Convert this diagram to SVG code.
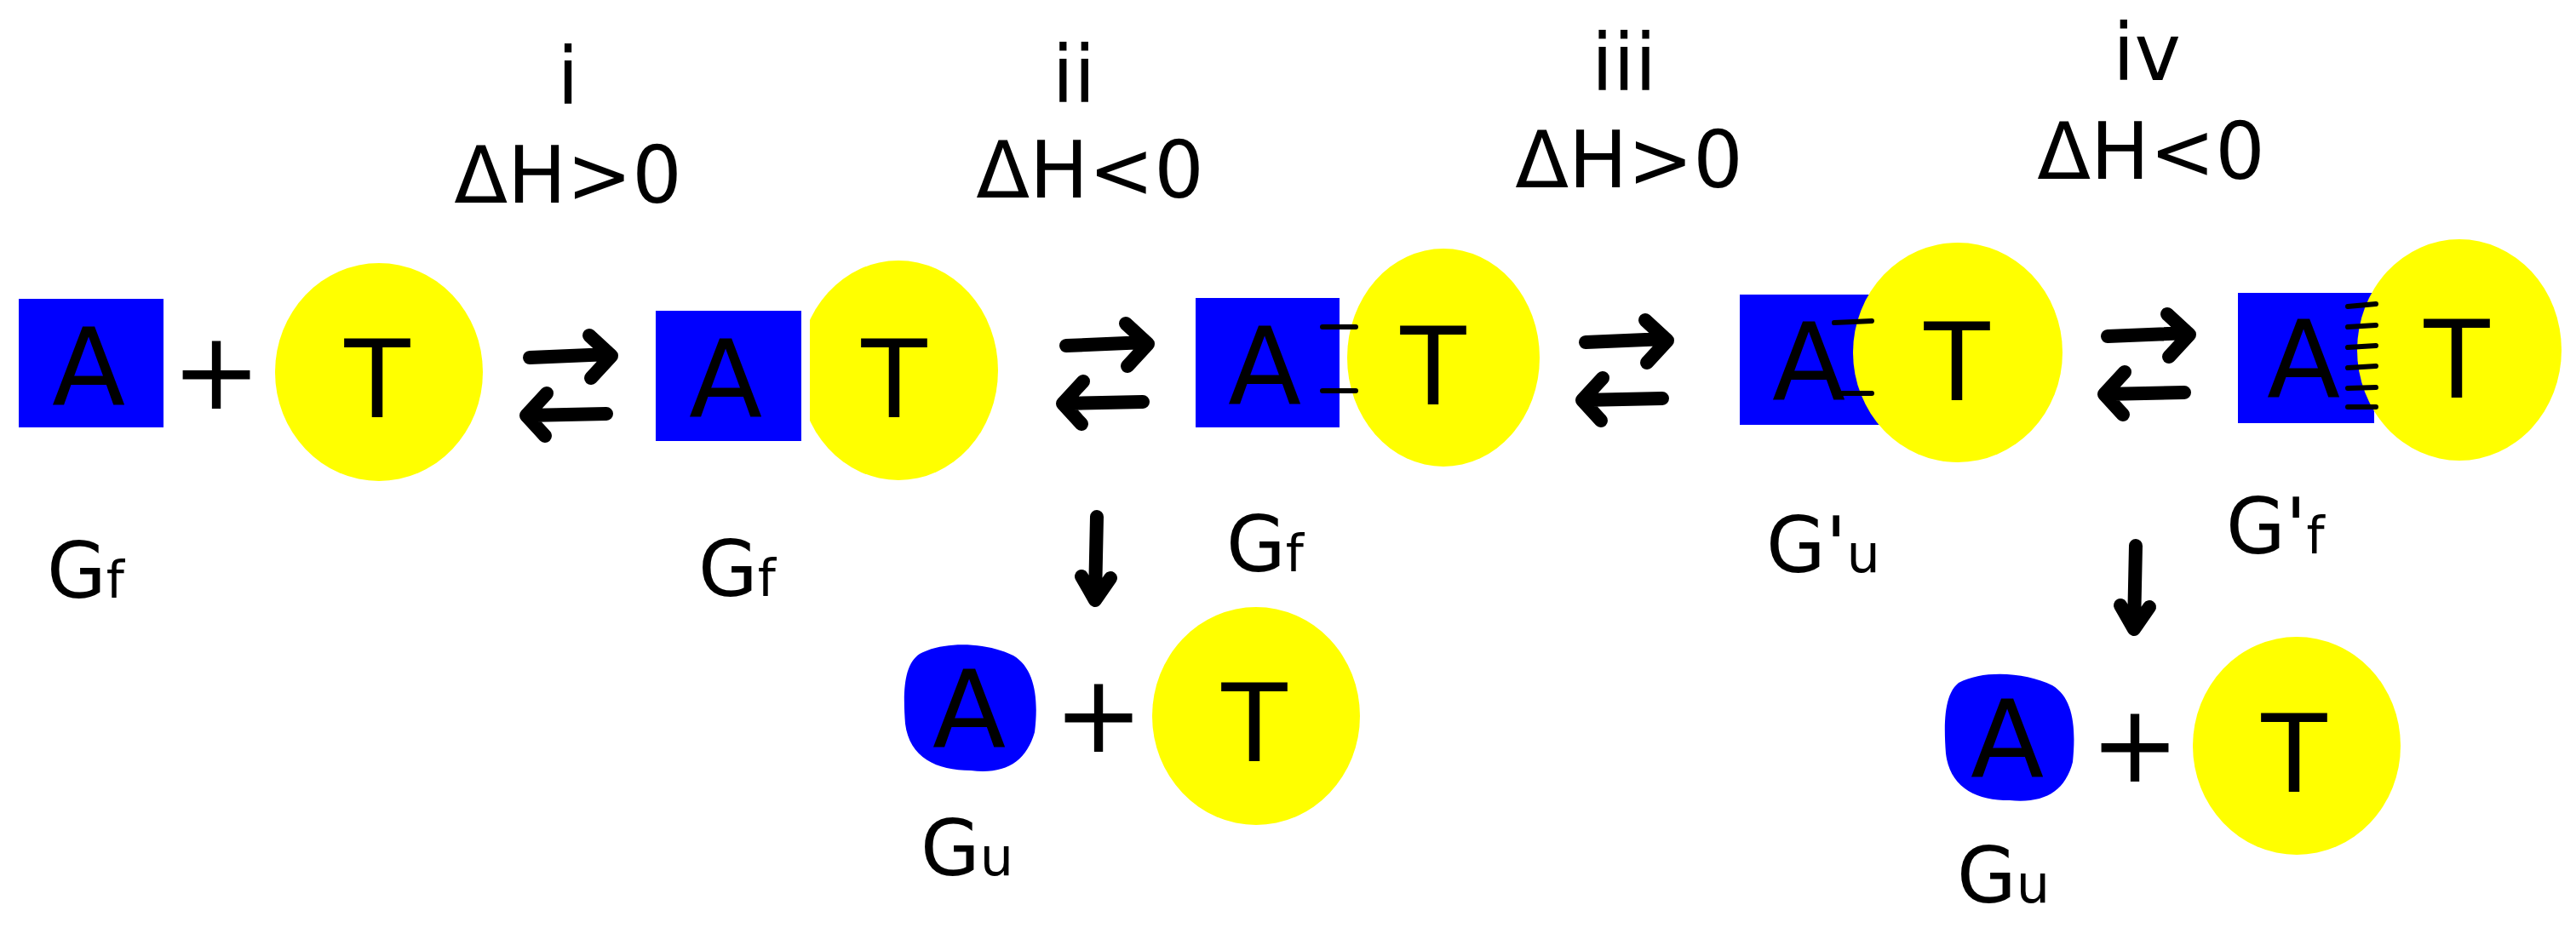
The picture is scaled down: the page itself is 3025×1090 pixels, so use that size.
<svg xmlns="http://www.w3.org/2000/svg" xmlns:xlink="http://www.w3.org/1999/xlink" width="3025" height="1090" viewBox="0 0 3025 1090">
<style>
.box{fill:#0000ff}
.ball{fill:#ffff00}
.big{font-family:"DejaVu Sans",sans-serif;font-size:126px;fill:#000;text-anchor:middle}
.lab{font-family:"DejaVu Sans",sans-serif;font-size:90px;fill:#000}
.hd{font-family:"DejaVu Sans",sans-serif;font-size:92px;fill:#000;text-anchor:middle}
.ln{stroke:#000;stroke-width:16;fill:none;stroke-linecap:round;stroke-linejoin:round}
.dash{stroke:#000;stroke-width:6;stroke-linecap:round}
</style>
<defs>
<g id="eq">
<path class="ln" d="M10,34 L104,30 M80,8 L106,32 L82,58"/>
<path class="ln" d="M100,100 L6,102 M30,76 L6,102 L28,126"/>
</g>
<path id="down" class="ln" d="M0,0 L-2,95 M-18,70 L-2,98 L16,72"/>
</defs>
<rect width="3025" height="1090" fill="#fff"/>
<g id="headers">
<text class="hd" x="667" y="122">i</text><text class="hd" x="667" y="238">ΔH&gt;0</text>
<text class="hd" x="1261" y="120">ii</text><text class="hd" x="1280" y="232">ΔH&lt;0</text>
<text class="hd" x="1907" y="106">iii</text><text class="hd" x="1913" y="220">ΔH&gt;0</text>
<text class="hd" x="2521" y="94">iv</text><text class="hd" x="2526" y="210">ΔH&lt;0</text>
</g>
<g id="n1"><rect class="box" x="22" y="351" width="170" height="151"/><text class="big" x="104" y="476">A</text></g>
<g id="plus1"><text class="big" x="254" y="480">+</text></g>
<g id="n2"><ellipse class="ball" cx="445" cy="437" rx="122" ry="128"/><text class="big" x="443" y="490">T</text></g>
<g id="n3"><ellipse class="ball" cx="1055" cy="435" rx="117" ry="129"/><rect class="box" x="770" y="365" width="171" height="153"/><rect x="941" y="300" width="10" height="270" fill="#fff"/><text class="big" x="852" y="490">A</text><text class="big" x="1050" y="490">T</text></g>
<g id="n4"><rect class="box" x="1404" y="350" width="169" height="152"/><ellipse class="ball" cx="1695" cy="420" rx="113" ry="128"/><rect x="1573" y="340" width="8" height="170" fill="#fff"/><text class="big" x="1485" y="475">A</text><text class="big" x="1683" y="475">T</text>
<path class="dash" d="M1553,384 L1592,384 M1553,459 L1592,459"/></g>
<g id="n5"><rect class="box" x="2043" y="346" width="165" height="153"/><ellipse class="ball" cx="2299" cy="414" rx="123" ry="129"/><text class="big" x="2124" y="470">A</text><text class="big" x="2298" y="470">T</text>
<path class="dash" d="M2154,379 L2198,377 M2156,462 L2198,462"/></g>
<g id="n6"><rect class="box" x="2628" y="344" width="160" height="153"/><ellipse class="ball" cx="2888" cy="411" rx="120" ry="130"/><text class="big" x="2705" y="467">A</text><text class="big" x="2885" y="467">T</text>
<path class="dash" d="M2757,360 L2790,357 M2757,384 L2790,382 M2757,408 L2790,406 M2757,432 L2790,430 M2757,456 L2790,455 M2757,478 L2790,478"/></g>
<g id="n7"><path class="box" d="M1080,768 C1110,752 1160,755 1190,770 C1215,785 1220,820 1215,860 C1205,895 1180,910 1140,905 C1100,905 1068,890 1063,850 C1060,810 1062,780 1080,768 Z"/><text class="big" x="1138" y="878">A</text></g>
<g id="plus2"><text class="big" x="1290" y="883">+</text></g>
<g id="n8"><ellipse class="ball" cx="1475" cy="841" rx="122" ry="128"/><text class="big" x="1473" y="894">T</text></g>
<g id="n9"><path class="box" d="M2300,802 C2330,786 2380,790 2410,805 C2435,820 2438,855 2434,895 C2425,930 2400,944 2360,940 C2320,940 2290,925 2285,885 C2282,845 2284,815 2300,802 Z"/><text class="big" x="2357" y="913">A</text></g>
<g id="plus3"><text class="big" x="2507" y="918">+</text></g>
<g id="n10"><ellipse class="ball" cx="2697" cy="876" rx="122" ry="128"/><text class="big" x="2694" y="930">T</text></g>
<g id="labels">
<text class="lab" x="55" y="702">G<tspan font-size="60">f</tspan></text>
<text class="lab" x="820" y="700">G<tspan font-size="60">f</tspan></text>
<text class="lab" x="1440" y="671">G<tspan font-size="60">f</tspan></text>
<text class="lab" x="2074" y="672">G'<tspan font-size="62">u</tspan></text>
<text class="lab" x="2614" y="650">G'<tspan font-size="60">f</tspan></text>
<text class="lab" x="1081" y="1028">G<tspan font-size="62">u</tspan></text>
<text class="lab" x="2298" y="1060">G<tspan font-size="62">u</tspan></text>
</g>
<g id="connectors">
<use xlink:href="#eq" x="612" y="386"/>
<use xlink:href="#eq" x="1242" y="372"/>
<use xlink:href="#eq" x="1852" y="368"/>
<use xlink:href="#eq" x="2465" y="361"/>
<use xlink:href="#down" x="1288" y="607"/>
<use xlink:href="#down" x="2508" y="641"/>
</g>
</svg>
